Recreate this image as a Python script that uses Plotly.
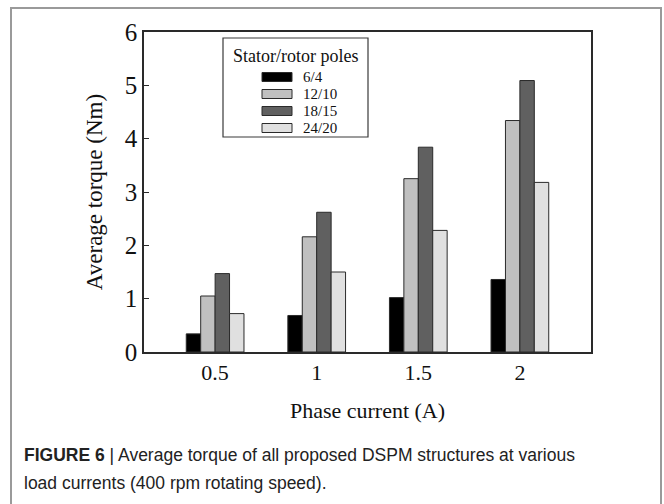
import plotly.graph_objects as go

# ---- data ----
currents = [0.5, 1, 1.5, 2]
series_names = ["6/4", "12/10", "18/15", "24/20"]
torque_6_4 = [0.34, 0.685, 1.02, 1.36]
torque_12_10 = [1.05, 2.16, 3.25, 4.34]
torque_18_15 = [1.47, 2.62, 3.84, 5.09]
torque_24_20 = [0.72, 1.50, 2.28, 3.18]
series_values = [torque_6_4, torque_12_10, torque_18_15, torque_24_20]
colors = ["#000000", "#c0c0c0", "#606060", "#e0e0e0"]
y_ticks = [0, 1, 2, 3, 4, 5, 6]
x_tick_labels = ["0.5", "1", "1.5", "2"]

W, H = 664, 504
L, R, T, B = 144, 591, 32, 352  # plot area in pixels


def px(x):
    return (x - L) / (R - L)


def py(y):
    return (B - y) / (B - T)


fig = go.Figure()
for name, vals, col in zip(series_names, series_values, colors):
    fig.add_trace(go.Bar(
        x=currents, y=vals, name=name,
        marker=dict(color=col, line=dict(color="#2a2a2a", width=1)),
        showlegend=False,
    ))

serif = "Liberation Serif, Times New Roman, serif"
axis_col = "#2a2a2a"

fig.update_layout(
    width=W, height=H,
    margin=dict(l=L, r=W - R, t=T, b=H - B),
    paper_bgcolor="white", plot_bgcolor="white",
    barmode="group", bargap=0.432, bargroupgap=0,
    font=dict(family=serif, color="#111111"),
    xaxis=dict(
        range=[0.15, 2.35], tickvals=currents, ticktext=x_tick_labels,
        ticks="", showgrid=False, zeroline=False,
        showline=True, linecolor=axis_col, linewidth=1.5, mirror=True,
        tickfont=dict(size=22, family=serif),
        title=dict(text="Phase current (A)", font=dict(size=22, family=serif), standoff=18),
    ),
    yaxis=dict(
        range=[0, 6], tickvals=y_ticks, ticks="inside", ticklen=5,
        tickcolor=axis_col, tickwidth=1.2,
        showgrid=False, zeroline=False,
        showline=True, linecolor=axis_col, linewidth=1.5, mirror=True,
        tickfont=dict(size=25, family=serif),
        title=dict(text="Average torque (Nm)", font=dict(size=23, family=serif), standoff=16),
    ),
)

shapes = []
annotations = []

# outer figure frame
shapes.append(dict(type="rect", xref="paper", yref="paper",
                   x0=px(11), x1=px(661), y0=py(8), y1=py(520),
                   line=dict(color="#9a9a9a", width=2), fillcolor="rgba(0,0,0,0)",
                   layer="below"))

# legend box (manual)
shapes.append(dict(type="rect", xref="paper", yref="paper",
                   x0=px(223), x1=px(368), y0=py(38), y1=py(137),
                   line=dict(color="#3a3a3a", width=1.2), fillcolor="white"))
annotations.append(dict(text="Stator/rotor poles", xref="paper", yref="paper",
                        x=px(295.5), y=py(56), xanchor="center", yanchor="middle",
                        showarrow=False, font=dict(size=18, family=serif, color="#111")))
leg_y = [77, 94, 111, 128]
for name, col, yy in zip(series_names, colors, leg_y):
    shapes.append(dict(type="rect", xref="paper", yref="paper",
                       x0=px(262), x1=px(292), y0=py(yy - 4.5), y1=py(yy + 4.5),
                       line=dict(color="#2a2a2a", width=1), fillcolor=col))
    annotations.append(dict(text=name, xref="paper", yref="paper",
                            x=px(301), y=py(yy), xanchor="left", yanchor="middle",
                            showarrow=False, font=dict(size=15, family=serif, color="#111")))

# caption
sans = "Liberation Sans, Arial, Helvetica, sans-serif"
annotations.append(dict(
    text="<b>FIGURE 6</b> | Average torque of all proposed DSPM structures at various",
    xref="paper", yref="paper", x=px(22), y=py(455), xanchor="left", yanchor="middle",
    showarrow=False, font=dict(size=17.5, family=sans, color="#222")))
annotations.append(dict(
    text="load currents (400 rpm rotating speed).",
    xref="paper", yref="paper", x=px(22), y=py(483), xanchor="left", yanchor="middle",
    showarrow=False, font=dict(size=17.5, family=sans, color="#222")))

fig.update_layout(shapes=shapes, annotations=annotations)
fig.write_html("out.html")
